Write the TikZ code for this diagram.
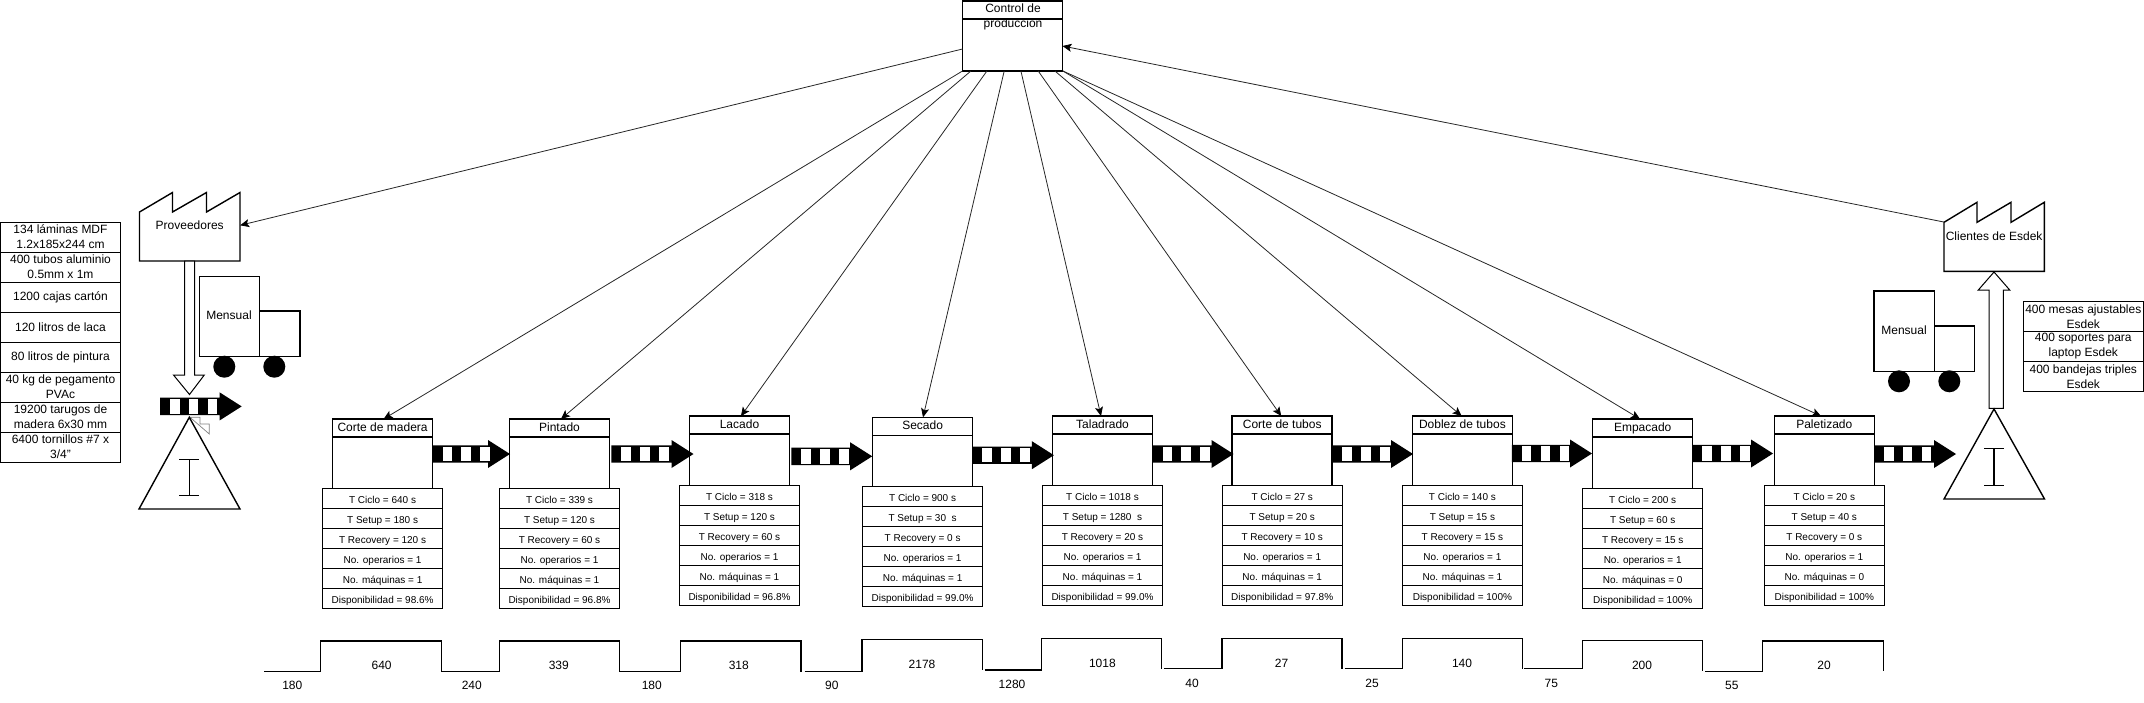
\documentclass[tikz,border=0pt]{standalone}
\usepackage{fontspec}
\setmainfont{Liberation Sans}
\usetikzlibrary{positioning,arrows.meta}
\tikzset{
  txtbig/.style={font=\fontsize{12}{15}\selectfont},
  prochead/.style={draw,line width=1.5pt,fill=white,inner sep=0pt,outer sep=0pt,minimum width=100pt,minimum height=18pt,txtbig,text height=9pt,text depth=1.8pt},
  procbody/.style={draw,line width=1.5pt,fill=white,inner sep=0pt,outer sep=0pt,minimum width=100pt,minimum height=51.5pt},
  datarow/.style={draw,line width=0.9pt,fill=white,inner sep=0pt,outer sep=0pt,minimum width=120pt,minimum height=20pt,font=\fontsize{10}{12}\selectfont,text height=10pt,text depth=0.8pt},
  stockrow/.style={draw,line width=0.9pt,fill=white,inner sep=0pt,outer sep=0pt,minimum width=119.5pt,minimum height=30pt,txtbig,align=center},
  plainlabel/.style={txtbig,inner sep=0pt},
  shapeline/.style={draw,line width=1.4pt,fill=white},
  infoline/.style={line width=0.8pt,draw=black!85,-{Stealth[length=9pt,width=8pt,inset=2pt,black]}},
  stepline/.style={line width=1.4pt}
}
\begin{document}
\begin{tikzpicture}[x=1pt,y=-1pt]
\useasboundingbox (0,0) rectangle (2144,702);
% suppliers side: factory, stock list, truck
\draw[shapeline] (139.5,212) -- (172.5,192.5) -- (172.5,212) -- (206.5,192.5) -- (206.5,212) -- (240,192.5) -- (240,261) -- (139.5,261) -- cycle;
\node[plainlabel,minimum width=100.5pt] (prov) at (189.7,225.3) {Proveedores};
\foreach \item [count=\i] in {134 láminas MDF\\1.2x185x244 cm,400 tubos aluminio\\0.5mm x 1m,1200 cajas cartón,120 litros de laca,80 litros de pintura,40 kg de pegamento\\PVAc,19200 tarugos de\\madera 6x30 mm,6400 tornillos \#7 x\\3/4"}
  \node[stockrow] (stock\i) at (60.5,{207+30*\i}) {\item};
\draw[line width=1pt,fill=white] (184.5,261) -- (194.5,261) -- (194.5,375) -- (204.3,375) -- (189.5,394.5) -- (173.5,375) -- (184.5,375) -- cycle;
\draw[shapeline] (199.3,276.3) rectangle (259.5,356.3);
\draw[shapeline] (259.5,311) rectangle (300,356.3);
\fill (224.3,366.7) circle (11) (274.3,366.7) circle (11);
\node[plainlabel] (truckprov) at (229,315.5) {Mensual};
% raw material inventory
\draw[line width=0.7pt,gray,fill=white] (190,417.3) -- (200,417.3) -- (200,424) -- (209.3,424) -- (209.3,434) -- cycle;
\draw[shapeline] (189.3,417.3) -- (240,509) -- (139,509) -- cycle;
\draw[line width=1.2pt] (189.3,459.3) -- (189.3,495.3) (179.3,459.3) -- (199.3,459.3) (179.3,495.3) -- (199.3,495.3);
% control box
\node[prochead] (ctrlhead) at (1012.5,10) {};
\node[procbody,minimum height=52pt,below=0pt of ctrlhead] (ctrl) {};
\node[plainlabel,align=center] (ctrltext) at (1013,17) {Control de\\producción};
% processes
\foreach \proc/\xx/\yy/\title in {corte/382.6/428/Corte de madera,pintado/559.5/428/Pintado,lacado/739.5/425.2/Lacado,secado/922.6/426.3/Secado,taladrado/1102.5/425/Taladrado,tubos/1282.2/425/Corte de tubos,doblez/1462.4/425/Doblez de tubos,empacado/1642.7/428/Empacado,paletizado/1824.3/425/Paletizado} {
  \node[prochead] (\proc) at (\xx,\yy) {\title};
  \node[procbody,below=0pt of \proc] (\proc-body) {};
}
% data tables
\foreach \row [count=\i] in {T Ciclo = 640 s,T Setup = 180 s,T Recovery = 120 s,No. operarios = 1,No. máquinas = 1,Disponibilidad = 98.6\%}
  \node[datarow,anchor=north] (cortedata\i) at ([yshift={-20*(\i-1)}]corte-body.south) {\row};
\foreach \row [count=\i] in {T Ciclo = 339 s,T Setup = 120 s,T Recovery = 60 s,No. operarios = 1,No. máquinas = 1,Disponibilidad = 96.8\%}
  \node[datarow,anchor=north] (pintadodata\i) at ([yshift={-20*(\i-1)}]pintado-body.south) {\row};
\foreach \row [count=\i] in {T Ciclo = 318 s,T Setup = 120 s,T Recovery = 60 s,No. operarios = 1,No. máquinas = 1,Disponibilidad = 96.8\%}
  \node[datarow,anchor=north] (lacadodata\i) at ([yshift={-20*(\i-1)}]lacado-body.south) {\row};
\foreach \row [count=\i] in {T Ciclo = 900 s,T Setup = 30~~s,T Recovery = 0 s,No. operarios = 1,No. máquinas = 1,Disponibilidad = 99.0\%}
  \node[datarow,anchor=north] (secadodata\i) at ([yshift={-20*(\i-1)}]secado-body.south) {\row};
\foreach \row [count=\i] in {T Ciclo = 1018 s,T Setup = 1280~~s,T Recovery = 20 s,No. operarios = 1,No. máquinas = 1,Disponibilidad = 99.0\%}
  \node[datarow,anchor=north] (taladradodata\i) at ([yshift={-20*(\i-1)}]taladrado-body.south) {\row};
\foreach \row [count=\i] in {T Ciclo = 27 s,T Setup = 20 s,T Recovery = 10 s,No. operarios = 1,No. máquinas = 1,Disponibilidad = 97.8\%}
  \node[datarow,anchor=north] (tubosdata\i) at ([yshift={-20*(\i-1)}]tubos-body.south) {\row};
\foreach \row [count=\i] in {T Ciclo = 140 s,T Setup = 15 s,T Recovery = 15 s,No. operarios = 1,No. máquinas = 1,Disponibilidad = 100\%}
  \node[datarow,anchor=north] (doblezdata\i) at ([yshift={-20*(\i-1)}]doblez-body.south) {\row};
\foreach \row [count=\i] in {T Ciclo = 200 s,T Setup = 60 s,T Recovery = 15 s,No. operarios = 1,No. máquinas = 0,Disponibilidad = 100\%}
  \node[datarow,anchor=north] (empacadodata\i) at ([yshift={-20*(\i-1)}]empacado-body.south) {\row};
\foreach \row [count=\i] in {T Ciclo = 20 s,T Setup = 40 s,T Recovery = 0 s,No. operarios = 1,No. máquinas = 0,Disponibilidad = 100\%}
  \node[datarow,anchor=north] (paletizadodata\i) at ([yshift={-20*(\i-1)}]paletizado-body.south) {\row};
% push arrows
\foreach \xx/\yy/\tip in {160/406.4/241.7,432.6/454/510,611.4/454/693.5,791.4/456.3/872.2,972.2/455.2/1053.9,1152.6/454/1233.5,1332.2/454/1413,1511.8/453.5/1592,1692.2/453.5/1773,1874/454/1956} {
  \fill (\xx,\yy-8.7) -- ({\tip-22},\yy-8.7) -- ({\tip-22},\yy-14) -- (\tip,\yy) -- ({\tip-22},\yy+14) -- ({\tip-22},\yy+8.7) -- (\xx,\yy+8.7) -- cycle;
  \foreach \off in {10,28.8,47.8}
    \fill[white] ({\xx+\off},\yy-7.2) rectangle ({\xx+\off+9.6},\yy+7.2);
}
% customers side
\draw[shapeline] (1944,222.3) -- (1977,202.3) -- (1977,222.3) -- (2011,202.3) -- (2011,222.3) -- (2044.3,202.3) -- (2044.3,271.3) -- (1944,271.3) -- cycle;
\node[plainlabel,minimum width=100.3pt] (cli) at (1994.1,236) {Clientes de Esdek};
\draw[line width=1pt,fill=white] (1989,408.3) -- (1989,290) -- (1978.3,290) -- (1994,272) -- (2009.7,290) -- (2003.3,290) -- (2003.3,408.3) -- cycle;
\draw[shapeline] (1874,291) rectangle (1934.3,371.7);
\draw[shapeline] (1934.3,326) rectangle (1974.3,371.7);
\fill (1899,381.3) circle (11) (1949.3,381.3) circle (11);
\node[plainlabel] (truckcli) at (1904,330.7) {Mensual};
\foreach \item [count=\i] in {400 mesas ajustables\\Esdek,400 soportes para\\laptop Esdek,400 bandejas triples\\Esdek}
  \node[stockrow,minimum width=120pt] (goods\i) at (2083.3,{286.3+30*\i}) {\item};
\draw[shapeline] (1994,409) -- (2044.5,499) -- (1944,499) -- cycle;
\draw[line width=1.2pt] (1994,448.7) -- (1994,485.3) (1984.3,448.7) -- (2004.3,448.7) (1984.3,485.3) -- (2004.3,485.3);
% information flow
\draw[infoline] ([yshift=-4]ctrl.west) -- (prov.east);
\foreach \proc/\dx/\tx in {corte/0/1,pintado/8.4/1.5,lacado/24.4/1.4,secado/41.7/0.4,taladrado/58.4/-1.5,tubos/75.7/-1,doblez/92.4/-0.8,empacado/100.4/-2.7,paletizado/100.4/-3.3}
  \draw[infoline] ([xshift=\dx]ctrl.south west) -- ([xshift=\tx]\proc.north);
\draw[infoline] ([yshift=14]cli.west) -- ([yshift=-1]ctrl.east);
% timeline
\draw[stepline] (264.3,671.5) -- (320.4,671.5) -- (320.4,641) -- (441.6,641) -- (441.6,671.5) -- (499.2,671.5) -- (499.2,641) -- (619.6,641) -- (619.6,671.5) -- (680.4,671.5) -- (680.4,641) -- (800.8,641) -- (800.8,671.5);
\draw[stepline] (804.5,671.5) -- (862,671.5) -- (862,639.3) -- (982.4,639.3) -- (982.4,669.5);
\draw[stepline] (984.5,670) -- (1041.6,670) -- (1041.6,638.7) -- (1161.6,638.7) -- (1161.6,668.7);
\draw[stepline] (1164,668.7) -- (1222,668.7) -- (1222,638.7) -- (1342,638.7) -- (1342,668.7);
\draw[stepline] (1344.5,668.7) -- (1402.4,668.7) -- (1402.4,638.7) -- (1522.4,638.7) -- (1522.4,668.7);
\draw[stepline] (1524,668.7) -- (1582.4,668.7) -- (1582.4,640.7) -- (1702.6,640.7) -- (1702.6,671.3);
\draw[stepline] (1705,671.3) -- (1762.7,671.3) -- (1762.7,641) -- (1883.6,641) -- (1883.6,671.3);
\foreach \val/\xx/\yy [count=\i] in {180/292.3/685.7,240/471.8/685.7,180/651.8/685.7,90/831.8/685.7,1280/1012/684.7,40/1192/683.7,25/1372/683.7,75/1551.4/683.7,55/1731.8/685.7}
  \node[plainlabel] (wait\i) at (\xx,\yy) {\val};
\foreach \val/\xx/\yy [count=\i] in {640/381.6/665.7,339/558.8/665.7,318/738.8/665.7,2178/922/664.7,1018/1102.4/663.3,27/1281.6/663.3,140/1462/663.3,200/1642/665.7,20/1824/665.7}
  \node[plainlabel] (cycle\i) at (\xx,\yy) {\val};
\end{tikzpicture}
\end{document}
